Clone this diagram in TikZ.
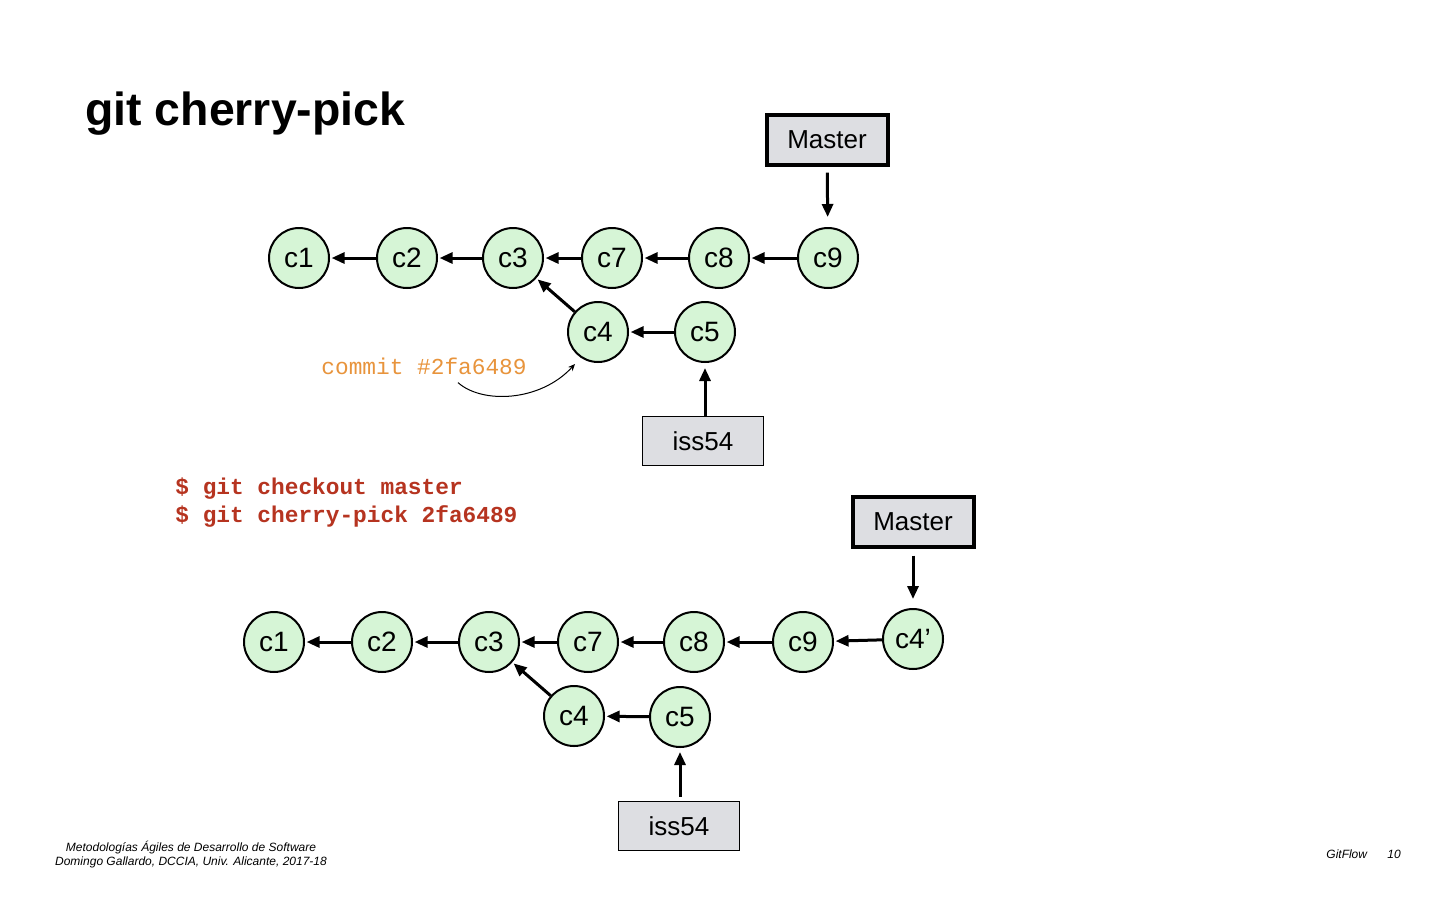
\documentclass[tikz,border=0pt]{standalone}
\usepackage{fontspec}
\setmainfont{Liberation Sans}
\setmonofont{Liberation Mono}
\usetikzlibrary{arrows.meta}
\definecolor{commitgreen}{RGB}{214,245,214}
\definecolor{branchgray}{RGB}{221,222,226}
\definecolor{noteorange}{RGB}{232,148,60}
\definecolor{shellred}{RGB}{182,52,32}
\tikzset{
  commit/.style={circle, draw, line width=1pt, fill=commitgreen,
    minimum size=30pt, inner sep=0pt, font=\fontsize{14}{16}\selectfont},
  branch/.style={rectangle, draw, line width=0.8pt, fill=branchgray,
    minimum width=60.5pt, minimum height=24.6pt, inner sep=0pt,
    font=\fontsize{13}{15}\selectfont},
  headbranch/.style={branch, line width=2pt},
  link/.style={line width=1.5pt, -{Triangle[length=6.5pt,width=5.5pt]}, shorten >=0.8pt},
  plain/.style={anchor=base west, inner sep=0pt},
  shell/.style={plain, text=shellred, font=\ttfamily\bfseries\fontsize{11.4}{13}\selectfont},
  foot/.style={font=\itshape\fontsize{6}{7}\selectfont},
}
\begin{document}
\begin{tikzpicture}[x=0.5pt,y=-0.5pt]
\useasboundingbox[fill=white] (0,0) rectangle (1440,900);
\node[plain, font=\bfseries\fontsize{23.2}{28}\selectfont] (title) at (85,125) {git cherry-pick};

% before the cherry-pick
\foreach \n/\x in {1/299,2/407,3/513,7/612,8/719,9/828}
  \node[commit] (t\n) at (\x,258) {c\n};
\node[commit] (t4) at (598,332) {c4};
\node[commit] (t5) at (705,332) {c5};
\foreach \a/\b in {2/1,3/2,7/3,8/7,9/8,4/3,5/4}
  \draw[link] (t\a) -- (t\b);
\node[headbranch] (tmaster) at (827,140) {Master};
\node[branch] (tiss) at (703,441) {iss54};
\draw[link, shorten <=3pt, shorten >=5pt] (tmaster) -- (t9);
\draw[link, shorten >=2.5pt] (tiss.north -| t5) -- (t5);
\node[plain, text=noteorange, font=\ttfamily\fontsize{11.4}{13}\selectfont] (hashnote) at (321,374) {commit \#2fa6489};
\coordinate (picktip) at (575,364);
\draw[line width=0.5pt, -{Stealth[length=3.5pt,width=3pt]}]
  ([xshift=17pt,yshift=-4pt]hashnote.south) .. controls (482,404) and (540,402) .. (picktip);

% shell commands
\node[shell] (cmd1) at (175,494) {\$ git checkout master};
\node[shell] (cmd2) at (175,522) {\$ git cherry-pick 2fa6489};

% after the cherry-pick
\foreach \n/\x in {1/274,2/382,3/489,7/588,8/694,9/803}
  \node[commit] (b\n) at (\x,642) {c\n};
\node[commit] (b4) at (574,716) {c4};
\node[commit] (b5) at (680,717) {c5};
\node[commit] (bnew) at (913,639) {c4’};
\foreach \a/\b in {2/1,3/2,7/3,8/7,9/8,4/3,5/4,new/9}
  \draw[link] (b\a) -- (b\b);
\node[headbranch] (bmaster) at (913,522) {Master};
\node[branch] (biss) at (679,826) {iss54};
\draw[link, shorten <=3.5pt, shorten >=4.5pt] (bmaster) -- (bnew);
\draw[link, shorten <=2pt, shorten >=2pt] (biss.north -| b5) -- (b5);

% footer
\node[foot, align=center] (credits) at (191,855)
  {Metodologías Ágiles de Desarrollo de Software\\Domingo Gallardo, DCCIA, Univ. Alicante, 2017-18};
\node[plain, foot] (topic) at (1326,858) {GitFlow};
\node[plain, foot] (page) at (1387,858) {10};
\end{tikzpicture}
\end{document}
